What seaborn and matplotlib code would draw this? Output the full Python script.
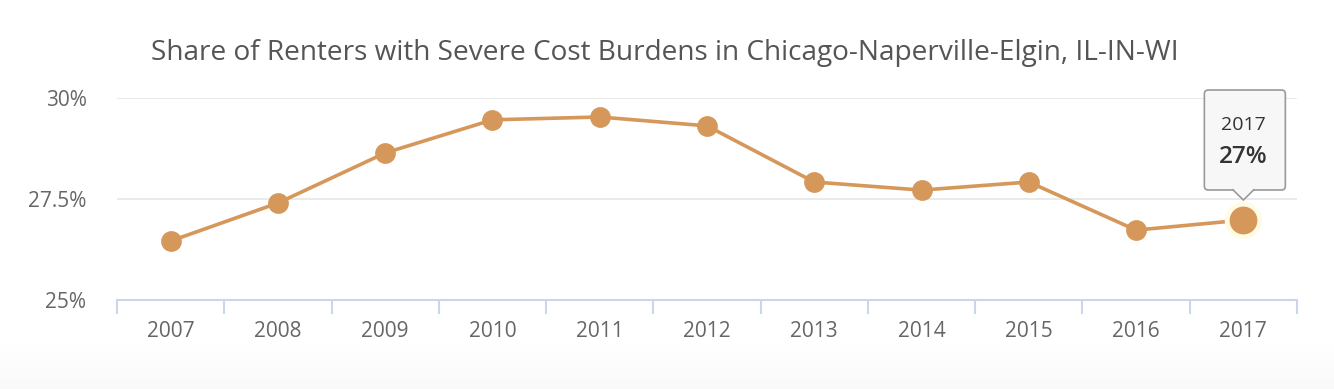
import numpy as np
import pandas as pd
import matplotlib
matplotlib.use("Agg")
import matplotlib.pyplot as plt
import matplotlib.transforms as mtransforms
from matplotlib.patches import FancyBboxPatch, Polygon
from matplotlib.ticker import FixedLocator
import seaborn as sns

# ---- data ----
years = ["2007", "2008", "2009", "2010", "2011", "2012", "2013", "2014", "2015", "2016", "2017"]
share = [26.46, 27.40, 28.64, 29.46, 29.53, 29.31, 27.92, 27.72, 27.92, 26.73, 26.98]
y_ticks = [25, 27.5, 30]
y_tick_labels = ["25%", "27.5%", "30%"]
title = "Share of Renters with Severe Cost Burdens in Chicago-Naperville-Elgin, IL-IN-WI"
tooltip_year = "2017"
tooltip_value = "27%"

df = pd.DataFrame({"year": years, "share": share})

sns.set_theme(style="white")
plt.rcParams["font.family"] = ["Open Sans", "DejaVu Sans"]

LINE = "#d5975a"
fig = plt.figure(figsize=(13.34, 3.89), dpi=100)

# subtle bottom gradient background
bg = fig.add_axes([0, 0, 1, 50 / 389], zorder=-10)
grad = np.linspace(1.0, 0.972, 50).reshape(-1, 1)
bg.imshow(np.repeat(grad, 2, axis=1), aspect="auto", cmap="gray", vmin=0, vmax=1,
          extent=[0, 1, 0, 1], origin="upper")
bg.axis("off")

ax = fig.add_axes([117 / 1334, 1 - 300 / 389, (1297 - 117) / 1334, (300 - 98) / 389])
ax.patch.set_alpha(0)

sns.pointplot(data=df, x="year", y="share", order=years, color=LINE, ax=ax,
              markers="o", linestyles="-", errorbar=None,
              markersize=13, linewidth=2.6)

# highlight last point (hover state)
last_i = len(years) - 1
ax.plot([last_i], [share[-1]], "o", ms=26, color="#fffbe6", zorder=4)
ax.plot([last_i], [share[-1]], "o", ms=19, color=LINE, zorder=5)

ax.set_xlim(-0.5, len(years) - 0.5)
ax.set_ylim(25, 30)
ax.yaxis.set_major_locator(FixedLocator(y_ticks))
ax.set_yticklabels(y_tick_labels)
ax.grid(axis="y", color="#e6e6e6", linewidth=1.2)
ax.set_axisbelow(True)

for s in ["top", "right", "left"]:
    ax.spines[s].set_visible(False)
ax.spines["bottom"].set_color("#ccd6eb")
ax.spines["bottom"].set_linewidth(1.5)

ax.tick_params(axis="x", which="major", bottom=True, length=0, labelsize=15,
               labelcolor="#666666", pad=15)
ax.xaxis.set_minor_locator(FixedLocator(np.arange(-0.5, len(years), 1.0)))
ax.tick_params(axis="x", which="minor", bottom=True, length=10, width=1.5,
               color="#ccd6eb", direction="out")
ax.tick_params(axis="y", length=0, labelsize=15, labelcolor="#666666", pad=22)
ax.set_xlabel("")
ax.set_ylabel("")

fig.text(665 / 1334, 1 - 53 / 389, title, ha="center", va="center",
         fontsize=20.2, color="#555555")

# tooltip callout anchored at the last point (pixel offsets)
trans = mtransforms.IdentityTransform() + mtransforms.ScaledTranslation(last_i, share[-1], ax.transData)
box = FancyBboxPatch((-39, 30), 81, 100, boxstyle="round,pad=0,rounding_size=4",
                     transform=trans, facecolor="#f7f7f7", edgecolor="#999999",
                     linewidth=1.2, zorder=6, clip_on=False)
ax.add_patch(box)
ptr = Polygon([(-11, 30.8), (0, 20), (11, 30.8)], closed=False, transform=trans,
              facecolor="#f7f7f7", edgecolor="#999999", linewidth=1.2, zorder=6,
              clip_on=False)
ax.add_patch(ptr)
cover = Polygon([(-10, 31.5), (0, 21.5), (10, 31.5)], closed=True, transform=trans,
                facecolor="#f7f7f7", edgecolor="none", zorder=6.5, clip_on=False)
ax.add_patch(cover)
ax.annotate(tooltip_year, xy=(last_i, share[-1]), xytext=(0, 95 * 0.72),
            textcoords="offset points", ha="center", va="center",
            fontsize=14, color="#333333", zorder=7)
ax.annotate(tooltip_value, xy=(last_i, share[-1]), xytext=(0, 63 * 0.72),
            textcoords="offset points", ha="center", va="center",
            fontsize=17.5, color="#333333", fontweight="semibold", zorder=7)

fig.savefig("out.png", dpi=100)
